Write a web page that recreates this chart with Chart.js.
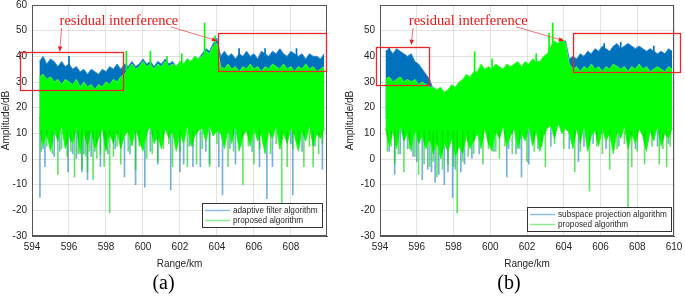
<!DOCTYPE html>
<html><head><meta charset="utf-8">
<script src="https://cdn.jsdelivr.net/npm/chart.js@4/dist/chart.umd.min.js"></script>
<style>
html,body{margin:0;padding:0;background:#fff;}
#wrap{position:relative;width:685px;height:297px;overflow:hidden;background:#fff;}
canvas{position:absolute;top:0;}
#ca{left:0;width:330px;height:297px;}
#cb{left:344px;width:338px;height:297px;}
</style></head><body>
<div id="wrap"><canvas id="ca" width="330" height="297"></canvas><canvas id="cb" width="338" height="297"></canvas></div>
<script>
// ---------- data ----------
const xStep = 0.2;
const xStartA = 594.4;
const xStartB = 594.3;
const xTickStep = 2;
const yTickStep = 10;

const labelsA = ['adaptive filter algorithm', 'proposed algorithm'];
const labelsB = ['subspace projection algorithm', 'proposed algorithm'];

// Panel (a): upper / lower edge of the dense noise band, every 0.2 km from 594.4 km
const blueHiA = [38,40,37,39,38,36,38,36,37,35,36,34,35,33,35,34,33,35,34,36,35,37,35,37,
  36,38,36,37,39,37,38,36,38,37,39,37,38,36,38,37,39,38,40,39,
  41,43,42,45,47,
  40,42,40,41,39,41,40,42,40,41,39,42,41,40,42,41,43,41,40,42,41,40,41,39,41,40,40,39,41];
const blueLoA = [16,15,17,16,15,16,17,15,16,16,15,17,16,15,16,17,16,15,16,17,15,16,16,17,
  16,15,17,16,16,15,17,16,15,16,17,16,15,16,17,15,16,16,17,16,
  17,16,18,17,16,
  16,17,15,16,17,16,15,17,16,16,15,17,16,15,16,17,16,15,16,17,16,15,16,17,16,15,17,16,16];
const greenHiA = [32,33,31,32,30,31,29,31,30,29,31,28,30,28,29,27,29,28,30,29,31,30,32,33,
  35,37,35,36,38,36,37,35,37,36,38,36,37,36,38,37,39,38,40,39,
  40,42,41,44,45,
  36,35,37,35,36,34,36,35,37,35,36,34,36,35,37,36,35,37,35,36,34,36,35,37,35,36,34,35,36];
const greenLoA = [12,5,10,3,11,7,13,4,9,6,12,2,10,5,11,4,8,12,3,10,6,11,4,9,
  11,5,12,7,3,10,13,6,9,4,12,8,11,3,10,6,13,5,9,11,
  12,7,13,9,11,
  10,4,12,6,13,3,9,11,5,12,7,10,2,11,8,13,4,10,6,12,9,3,11,7,13,5,10,8,12];
// isolated downward / upward excursions [km, dB]
const blueDipsA = [[594.43,-15],[594.7,-3],[595.95,-5],[596.7,-5],[597.0,-8],[597.7,-3],[599.0,-7],[599.6,-10],[600.1,-11],[600.8,-2],[601.5,-12],[602.0,-5],[602.2,-2],[602.7,-3],[603.1,-3],[603.6,-2],[604.1,-3],[604.3,-14],[605.0,-2],[606.3,-3],[606.7,-15.5],[607.0,-3],[608.1,-14],[609.7,-4],
  [594.6,4],[595.2,1],[595.5,3],[596.2,2],[596.4,0],[596.8,2],[597.2,1],[597.4,3],[598.1,2],[598.5,4],[599.3,2],[600.4,3],[601.0,5],[601.8,4],[602.5,5],[603.4,3],[604.7,4],[605.3,5],[605.9,3],[606.5,6],[607.4,4],[608.0,6],[608.6,3],[609.3,5]];
const greenDipsA = [[595.4,-6],[596.3,-7],[596.7,-4],[597.0,-5],[597.3,-8],[597.9,-3],[598.2,-21],[598.8,-2],[599.6,-4],[600.2,0],[600.8,-1],[601.6,-3],[602.4,-3],[602.9,-2],[603.6,-3],[604.6,-3],[605.4,-10],[606.0,-2],[607.5,-17],[607.8,-3],[608.7,-3],[609.2,-3],
  [594.5,3],[594.8,5],[595.1,2],[595.6,4],[595.9,1],[596.1,3],[596.5,2],[596.9,1],[597.1,3],[597.5,0],[597.7,2],[598.0,4],[598.4,1],[598.6,5],[599.2,3],[599.8,5],[600.5,2],[601.1,4],[601.4,6],[602.0,3],[602.7,5],[603.2,4],[604.0,6],[604.9,3],[605.7,5],[606.3,4],[606.9,2],[607.2,6],[608.1,4],[608.4,6],[609.0,5],[609.5,2],[609.7,6]];
const blueUpsA = [[596.0,40],[605.2,43],[606.6,43],[608.3,43]];
const greenUpsA = [[599.1,42],[600.4,42],[601.3,40],[602.1,41],[603.33,53],[603.9,48]];

// Panel (b): every 0.2 km from 594.3 km
const blueHiB = [42,43,41,43,42,41,40,41,38,37,35,33,31,
  27,26,27,25,26,28,27,29,30,32,31,33,
  33,36,34,35,34,36,35,34,36,35,36,37,35,37,36,38,37,37,39,40,
  43,45,44,46,46,
  39,40,39,41,40,42,41,43,42,44,43,42,44,45,43,44,45,44,43,44,43,42,43,42,41,42,41,43,42];
const blueLoB = [16,15,17,16,15,16,17,15,16,16,15,17,
  14,13,14,12,13,14,13,14,15,14,16,15,16,
  16,15,17,16,16,15,17,16,15,16,17,16,15,16,17,15,16,16,17,16,
  17,16,18,17,16,
  16,17,15,16,17,16,15,17,16,16,15,17,16,15,16,17,16,15,16,17,16,15,16,17,16,15,17,16,16];
const greenHiB = [31,32,30,31,32,30,31,30,31,29,30,29,28,
  28,27,28,26,27,29,28,30,31,33,32,34,
  34,37,35,36,35,37,36,35,37,36,37,38,36,38,37,39,38,38,40,41,
  44,46,45,47,45,
  37,35,36,34,36,35,37,35,36,34,36,35,37,36,35,36,34,36,35,37,35,36,34,35,36,35,34,36,35];
const greenLoB = [12,5,11,4,13,7,10,3,12,6,9,4,
  8,2,7,0,6,3,8,1,5,2,9,4,7,
  10,4,12,6,3,11,8,13,5,9,12,4,10,7,13,5,11,3,9,12,
  13,8,14,10,12,
  10,4,12,6,13,3,9,11,5,12,7,10,2,11,8,13,4,10,6,12,9,3,11,7,13,5,10,8,12];
const blueDipsB = [[594.8,-6],[596.3,-8],[596.6,-4],[597.0,-9],[597.5,-10],[597.95,-15],[598.4,-5],[600.9,-7],[601.7,-7],[602.1,-2],[604.8,-1],
  [594.5,3],[595.1,2],[595.5,4],[595.8,1],[596.0,-1],[596.8,-5],[597.2,-6],[597.7,-5],[598.1,-4],[598.6,-2],[599.0,0],[599.4,2],[600.2,3],[601.0,4],[601.4,2],[602.6,4],[603.3,5],[604.3,4],[605.1,5],[605.6,6],[606.3,4],[607.0,5],[607.9,4],[608.5,6],[609.1,5],[609.7,6]];
const greenDipsB = [[594.8,-2],[595.3,-5],[596.1,-6],[597.1,-7],[598.2,-21],[599.6,-2],[600.5,0],[602.0,-1],[603.0,-3],[604.6,-5],[605.4,-12.5],[606.5,-4],[607.5,-19],[607.7,-3],[608.4,-2],[609.2,-2],[609.6,-3],
  [594.4,3],[594.6,5],[595.0,2],[595.6,4],[595.9,1],[596.4,-2],[596.7,-3],[596.9,-1],[597.4,-4],[597.7,-2],[598.0,-3],[598.5,-1],[598.8,1],[599.1,2],[599.9,4],[600.3,3],[600.8,5],[601.2,2],[601.6,4],[602.4,3],[602.8,5],[603.5,6],[604.0,4],[604.9,3],[605.8,5],[606.1,2],[606.9,4],[607.3,6],[608.0,3],[608.8,5],[609.4,4],[609.8,5]];
const blueUpsB = [[594.5,43.5],[606.2,45],[607.1,45.5],[608.9,44]];
const greenUpsB = [[599.15,41.8],[600.1,39],[602.5,41],[603.2,49],[603.4,53]];

// ---------- styling ----------
const BLUE = 'rgb(0,114,189)';
const GREEN = 'rgb(0,255,0)';
const BLUE_EDGE = 'rgb(50,140,205)';
const GREEN_EDGE = 'rgb(70,245,70)';
const BLUE_THIN = 'rgba(0,114,189,0.55)';
const GREEN_THIN = 'rgba(0,210,0,0.6)';
const BLUE_LEG = 'rgb(140,190,228)';
const GREEN_LEG = 'rgb(140,238,140)';
const SANS = '"Liberation Sans", Arial, sans-serif';
const SERIF = '"Liberation Serif", "Times New Roman", serif';
const INK = '#262626';

function toPoints(vals, start){ return vals.map((v,i)=>({x:+(start+i*xStep).toFixed(2), y:v})); }
function band(hi, lo, start, color, edge, order, label, legColor){
  return [
    {type:'line', data:toPoints(hi,start), borderColor:edge, backgroundColor:color, borderWidth:1, pointRadius:0, tension:0, fill:'+1', order, legendLabel:label, legendColor:legColor},
    {type:'line', data:toPoints(lo,start), borderColor:edge, backgroundColor:color, borderWidth:1, pointRadius:0, tension:0, fill:false, order}
  ];
}
function spikes(arr, base, color, order){
  return {type:'bar', data:arr.map(([x,v])=>({x, y:[base, v]})), backgroundColor:color, borderWidth:0, barThickness:1, grouped:false, order};
}

const decorPlugin = {
  id:'decor',
  afterDraw(chart, args, opts){
    const {ctx, chartArea:a, scales} = chart;
    const X = v=>scales.x.getPixelForValue(v), Y = v=>scales.y.getPixelForValue(v);
    ctx.save();
    ctx.strokeStyle = '#555'; ctx.lineWidth = 1;
    ctx.strokeRect(Math.round(a.left)+0.5, Math.round(a.top)+0.5, Math.round(a.right)-Math.round(a.left)-1, Math.round(a.bottom)-Math.round(a.top)-1);
    ctx.font = '8.2px ' + SANS;
    const items = chart.data.datasets.filter(d=>d.legendLabel);
    const tw = Math.max(...items.map(d=>ctx.measureText(d.legendLabel).width));
    const w = Math.round(3+25+3+tw+4), h = 24;
    const lx = Math.round(a.right - opts.legRight - w), ly = Math.round(a.bottom - opts.legBottom - h);
    ctx.fillStyle = '#fff'; ctx.fillRect(lx, ly, w, h);
    ctx.strokeStyle = '#333'; ctx.strokeRect(lx+0.5, ly+0.5, w, h);
    items.forEach((d,i)=>{
      const cy = ly + 7.5 + i*10;
      ctx.strokeStyle = d.legendColor; ctx.lineWidth = 1.5;
      ctx.beginPath(); ctx.moveTo(lx+3, cy); ctx.lineTo(lx+28, cy); ctx.stroke();
      ctx.fillStyle = INK; ctx.textBaseline = 'middle'; ctx.textAlign = 'left';
      ctx.fillText(d.legendLabel, lx+31, cy);
    });
    const an = opts.annot;
    ctx.strokeStyle = 'rgb(235,40,40)'; ctx.lineWidth = 1.3;
    an.boxes.forEach(([x0,y0,x1,y1])=>{
      ctx.strokeRect(Math.round(X(x0))+0.5, Math.round(Y(y0))+0.5, Math.round(X(x1)-X(x0)), Math.round(Y(y1)-Y(y0)));
    });
    ctx.lineWidth = 0.8; ctx.strokeStyle = 'rgb(235,80,80)'; ctx.fillStyle = 'rgb(235,30,30)';
    an.arrows.forEach(([x0,y0,x1,y1])=>{
      const px0=X(x0), py0=Y(y0), px1=X(x1), py1=Y(y1);
      ctx.beginPath(); ctx.moveTo(px0,py0); ctx.lineTo(px1,py1); ctx.stroke();
      const ang = Math.atan2(py1-py0, px1-px0), L=5, W=2.2;
      ctx.beginPath(); ctx.moveTo(px1,py1);
      ctx.lineTo(px1 - L*Math.cos(ang) + W*Math.sin(ang), py1 - L*Math.sin(ang) - W*Math.cos(ang));
      ctx.lineTo(px1 - L*Math.cos(ang) - W*Math.sin(ang), py1 - L*Math.sin(ang) + W*Math.cos(ang));
      ctx.closePath(); ctx.fill();
    });
    ctx.font = '14.5px ' + SERIF; ctx.fillStyle = 'rgb(240,20,20)';
    ctx.textAlign = 'center'; ctx.textBaseline = 'middle';
    ctx.fillText(an.text, X(an.tx), Y(an.ty));
    ctx.restore();
  }
};

function makeChart(id, o){
  const datasets = [
    ...band(o.blueHi, o.blueLo, o.start, BLUE, BLUE_EDGE, 10, o.labels[0], BLUE_LEG),
    ...band(o.greenHi, o.greenLo, o.start, GREEN, GREEN_EDGE, 5, o.labels[1], GREEN_LEG),
    spikes(o.blueDips, 16, BLUE_THIN, 9),
    spikes(o.blueUps, 32, BLUE, 9),
    spikes(o.greenDips, 11, GREEN_THIN, 4),
    spikes(o.greenUps, 30, GREEN, 4)
  ];
  const tickFont = {family:SANS, size:10};
  return new Chart(document.getElementById(id), {
    type:'line',
    data:{datasets},
    options:{
      responsive:false, animation:false, devicePixelRatio:1,
      layout:{padding:{left:0, right:o.padRight, top:5, bottom:0}},
      plugins:{
        legend:{display:false}, tooltip:{enabled:false},
        title:{display:true, text:o.title, position:'bottom', color:'#000', font:{family:SERIF, size:20, weight:'normal'}, padding:{top:2, bottom:1}},
        decor:{legRight:o.legRight, legBottom:o.legBottom, annot:o.annot}
      },
      scales:{
        x:{type:'linear', min:594, max:o.xMax, offset:false,
          ticks:{stepSize:xTickStep, includeBounds:false, autoSkip:false, maxRotation:0, color:INK, font:tickFont, padding:5},
          grid:{color:'rgba(0,0,0,0.11)', drawTicks:false, offset:false},
          border:{color:'#555'},
          title:{display:true, text:'Range/km', color:INK, font:{family:SANS, size:10}, padding:{top:2, bottom:0}},
          afterFit(s){ s.height = 34; s.paddingLeft = 0; s.paddingRight = 0; }
        },
        y:{type:'linear', min:-30, max:60,
          ticks:{stepSize:yTickStep, color:INK, font:tickFont, padding:5,
            callback:(v)=> (v > o.yLabelMax ? '' : v)},
          grid:{color:'rgba(0,0,0,0.11)', drawTicks:false},
          border:{color:'#555'},
          title:{display:true, text:'Amplitude/dB', color:INK, font:{family:SANS, size:10}, padding:{top:0, bottom:2}},
          afterFit(s){ s.width = o.yWidth; s.paddingTop = 0; s.paddingBottom = 0; }
        }
      }
    },
    plugins:[decorPlugin]
  });
}

makeChart('ca', {
  start:xStartA, blueHi:blueHiA, blueLo:blueLoA, greenHi:greenHiA, greenLo:greenLoA,
  blueDips:blueDipsA, greenDips:greenDipsA, blueUps:blueUpsA, greenUps:greenUpsA,
  labels:labelsA, title:'(a)', xMax:609.95, yLabelMax:60, yWidth:32, padRight:3, legRight:5, legBottom:9,
  annot:{boxes:[[593.35,41.5,598.9,26.5],[604.05,49,609.9,34]], arrows:[[595.6,51.1,595.5,41.9],[601.5,51.5,604.0,46.1]], text:'residual interference', tx:598.7, ty:53.8}
});
makeChart('cb', {
  start:xStartB, blueHi:blueHiB, blueLo:blueLoB, greenHi:greenHiB, greenLo:greenLoB,
  blueDips:blueDipsB, greenDips:greenDipsB, blueUps:blueUpsB, greenUps:greenUpsB,
  labels:labelsB, title:'(b)', xMax:610, yLabelMax:50, yWidth:36, padRight:8, legRight:3, legBottom:5,
  annot:{boxes:[[593.8,43.8,596.7,29.1],[604.5,49.2,610.35,34.1]], arrows:[[595.8,51.1,595.7,44.5],[601.4,51.5,604.0,46.1]], text:'residual interference', tx:598.8, ty:53.8}
});
</script></body></html>
